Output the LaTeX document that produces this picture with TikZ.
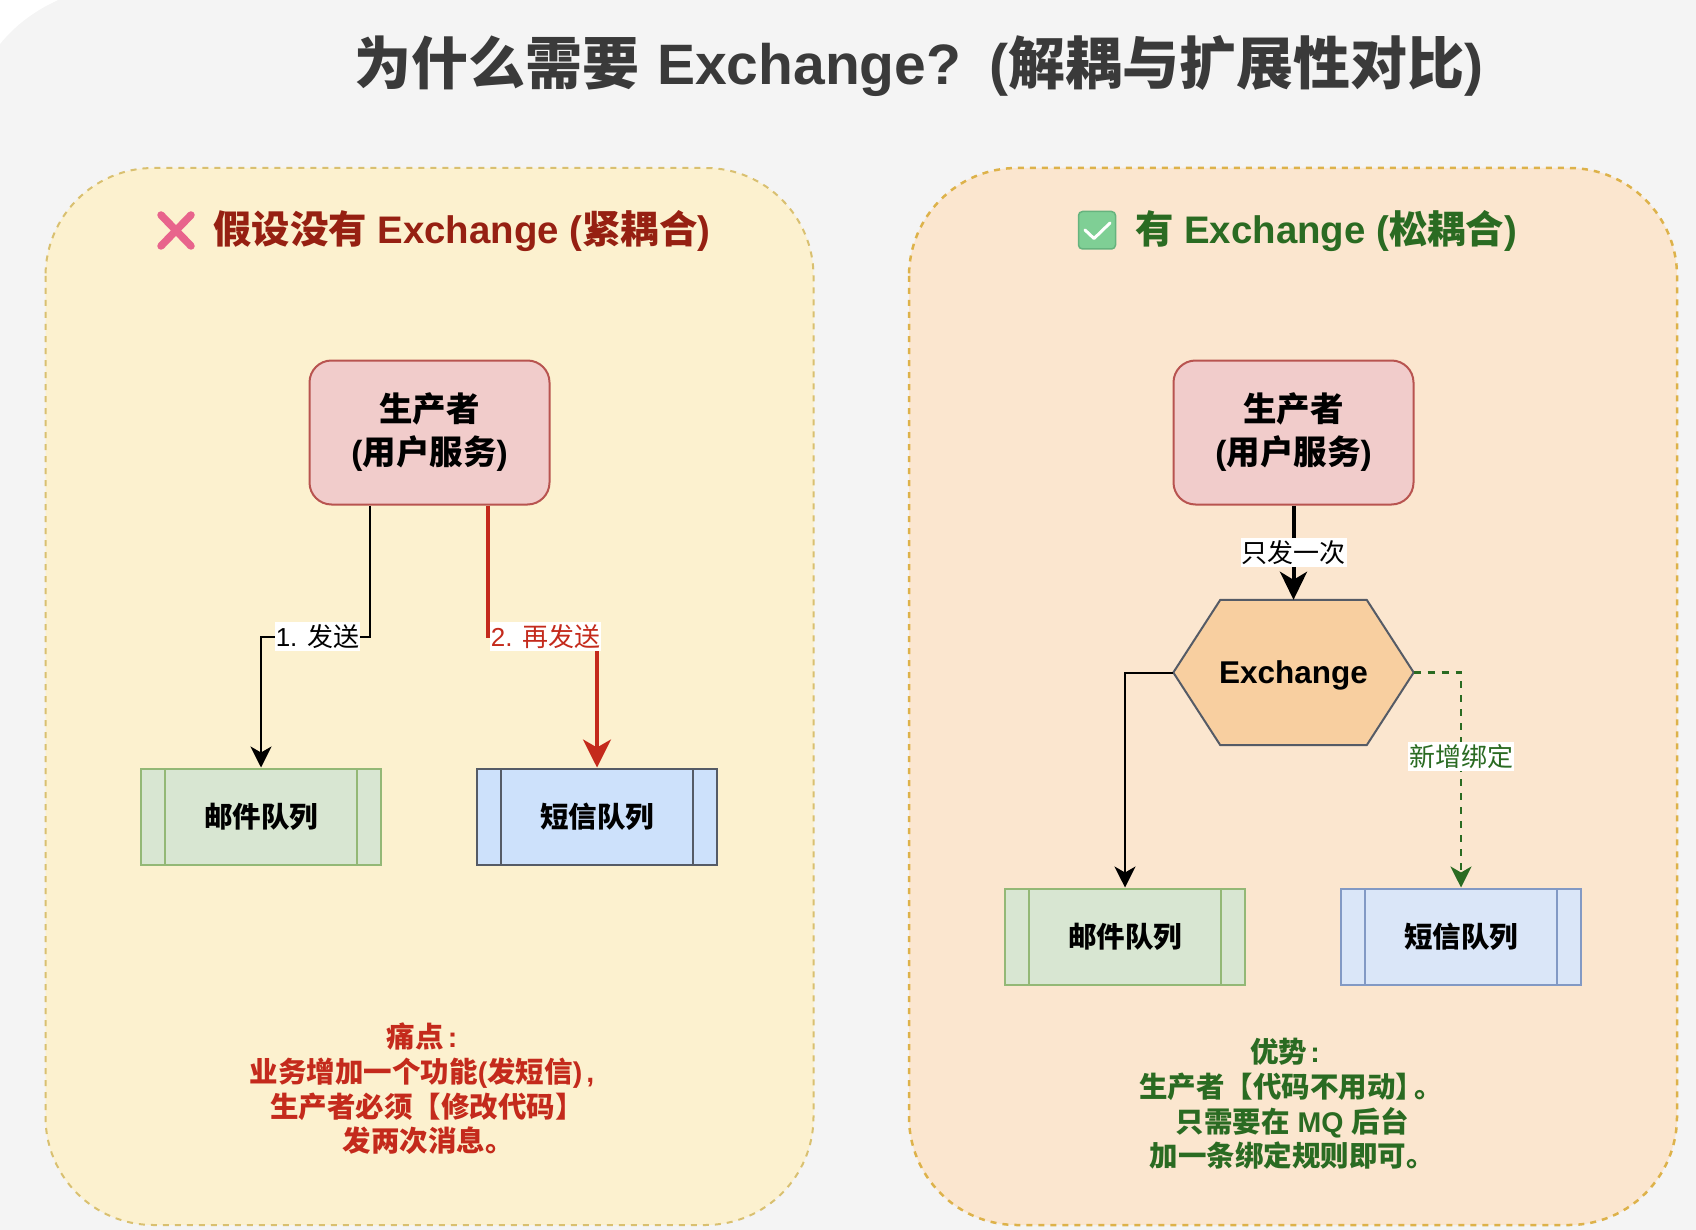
\documentclass[tikz,border=0pt]{standalone}
\usepackage{fontspec}
\setmainfont{Liberation Sans}
\newfontfamily\cjk{Noto Sans CJK SC}
\usetikzlibrary{arrows.meta,calc}
\definecolor{pagebg}{HTML}{F4F4F4}
\definecolor{leftfill}{HTML}{FCF1CF}
\definecolor{leftdash}{HTML}{D9C070}
\definecolor{rightfill}{HTML}{FBE6CF}
\definecolor{rightdash}{HTML}{DDB24A}
\definecolor{prodfill}{HTML}{F1CCCB}
\definecolor{prodline}{HTML}{B85450}
\definecolor{greenfill}{HTML}{D8E6D2}
\definecolor{greenline}{HTML}{93B876}
\definecolor{bluefill}{HTML}{CDE1FB}
\definecolor{bluefillb}{HTML}{DAE6F8}
\definecolor{bluelineb}{HTML}{8299C4}
\definecolor{grayline}{HTML}{555B66}
\definecolor{hexfill}{HTML}{F8CFA0}
\definecolor{redmain}{HTML}{C42A1C}
\definecolor{reddark}{HTML}{962012}
\definecolor{greenmain}{HTML}{2A6B22}
\definecolor{titlecol}{HTML}{3A3A3A}
\definecolor{crosspink}{HTML}{E8648C}
\definecolor{checkfill}{HTML}{7FCF95}
\definecolor{checkline}{HTML}{66B37E}
\tikzset{
  panel/.style={line width=2pt,dash pattern=on 6pt off 6pt,rounded corners=108pt},
  prodbox/.style={draw=prodline,fill=prodfill,line width=2pt,rounded corners=22pt,minimum width=240pt,minimum height=144pt,inner sep=0pt,align=center,font=\fontsize{33.5}{43}\selectfont\bfseries},
  qbox/.style n args={2}{draw=#2,fill=#1,line width=2pt,minimum width=240.5pt,minimum height=96pt,inner sep=0pt,font=\fontsize{28.5}{34}\selectfont\bfseries,
    path picture={\draw[#2,line width=2pt] ([xshift=24pt]path picture bounding box.north west) -- ([xshift=24pt]path picture bounding box.south west);
      \draw[#2,line width=2pt] ([xshift=-24pt]path picture bounding box.north east) -- ([xshift=-24pt]path picture bounding box.south east);}},
  hexbox/.style={minimum width=240pt,minimum height=145pt,inner sep=0pt,font=\fontsize{31.5}{36}\selectfont\bfseries},
  edgelabel/.style={fill=white,inner xsep=1pt,inner ysep=0pt,minimum height=29pt,font=\fontsize{26}{30}\selectfont},
  paneltitle/.style={inner sep=0pt,anchor=west,font=\fontsize{38.4}{44}\selectfont\bfseries},
  note/.style={inner sep=0pt,align=center,font=\fontsize{28.5}{34.7}\selectfont\bfseries},
  conn/.style={line width=2pt,draw=black},
  tipsmall/.style={-{Stealth[length=21pt,width=21pt,inset=6pt]}},
  tipbig/.style={-{Stealth[length=28pt,width=28pt,inset=8pt]}},
}
\begin{document}
\begin{tikzpicture}[x=1pt,y=-1pt]
\useasboundingbox (0,0) rectangle (1696,1230);
\fill[pagebg] (0,0) rectangle (1696,1230);
\fill[white] (0,0) -- (58,0) .. controls (36,10) and (15,25) .. (0,44) -- cycle;
% panels
\draw[panel,draw=leftdash,fill=leftfill] (45.5,168) rectangle (813.5,1225);
\draw[panel,draw=rightdash,fill=rightfill,line width=2.5pt] (909,168) rectangle (1677,1225);
% title
\node[inner sep=0pt,text=titlecol,font=\fontsize{57}{66}\selectfont\bfseries] (title) at (919,66)
  {{\cjk 为什么需要}\hspace{2pt} Exchange?\hspace{0.13em} ({\cjk 解耦与扩展性对比})};
% left heading
\draw[line width=7.5pt,line cap=round,crosspink] (161,215) -- (191,246) (191,215) -- (161,246);
\node[paneltitle,text=reddark] (lefttitle) at (213,231) {{\cjk 假设没有} Exchange ({\cjk 紧耦合})};
% right heading
\draw[rounded corners=4pt,draw=checkline,fill=checkfill,line width=1.5pt] (1078.5,211.5) rectangle (1115.5,249);
\draw[white,line width=3pt,line cap=round,line join=round] (1085,230) -- (1094,238.5) -- (1110,223);
\node[paneltitle,text=greenmain] (righttitle) at (1135,231) {{\cjk 有} Exchange ({\cjk 松耦合})};
% left nodes
\node[prodbox] (p1) at (429.5,432.5) {\raisebox{-4pt}{\cjk 生产者}\\\raisebox{-4pt}{({\cjk 用户服务})}};
\node[qbox={greenfill}{greenline}] (q1) at (261,816.5) {\cjk 邮件队列};
\node[qbox={bluefill}{grayline}] (q2) at (597,816.5) {\cjk 短信队列};
% left connectors
\draw[conn,tipsmall] ([xshift=-60pt]p1.south) -- ++(0,131) -| node[edgelabel,pos=0.24] (l1) {1. {\cjk 发送}} (q1.north);
\draw[conn,redmain,line width=3.5pt,tipbig] ([xshift=58.5pt]p1.south) -- ++(0,131) -| node[edgelabel,text=redmain,pos=0.264] (l2) {2. {\cjk 再发送}} (q2.north);
% left note
\node[note,text=redmain] (n1) at (420,1089) {\hspace*{4pt}{\cjk 痛点}\hspace{4pt}:\\\hspace*{4pt}{\cjk 业务增加一个功能}({\cjk 发短信})\hspace{4pt},\\\hspace*{14pt}{\cjk 生产者必须【修改代码】}\\\hspace*{16pt}{\cjk 发两次消息。}};
% right nodes
\node[prodbox] (p2) at (1293.5,432.5) {\raisebox{-4pt}{\cjk 生产者}\\\raisebox{-4pt}{({\cjk 用户服务})}};
\node[hexbox] (ex) at (1293.5,672.5) {};
\draw[draw=grayline,fill=hexfill,line width=2pt,line join=round] (ex.west) -- ([xshift=47pt]ex.north west) -- ([xshift=-47pt]ex.north east) -- (ex.east) -- ([xshift=-47pt]ex.south east) -- ([xshift=47pt]ex.south west) -- cycle;
\node[hexbox,yshift=-3pt] (exlabel) at (ex.center) {Exchange};
\node[qbox={greenfill}{greenline}] (q3) at (1125,936.5) {\cjk 邮件队列};
\node[qbox={bluefillb}{bluelineb}] (q4) at (1461,936.5) {\cjk 短信队列};
% right connectors
\draw[conn,line width=4pt,-{Stealth[length=28pt,width=27pt,inset=8pt]}] (p2.south) -- node[edgelabel] (l3) {\cjk 只发一次} (ex.north);
\draw[conn,tipsmall] (ex.west) -| (q3.north);
\draw[conn,greenmain,line width=2.5pt,dash pattern=on 7pt off 7pt,tipsmall] (ex.east) -| node[edgelabel,text=greenmain,pos=0.696] (l4) {\cjk 新增绑定} (q4.north);
% right note
\node[note,text=greenmain] (n2) at (1285,1104) {{\cjk 优势}\hspace{3pt}:\\\hspace*{12pt}{\cjk 生产者【代码不用动】\kern-10pt。}\\\hspace*{0.5em}{\cjk 只需要在} MQ {\cjk 后台}\\\hspace*{14pt}{\cjk 加一条绑定规则即可。}};
\end{tikzpicture}
\end{document}
